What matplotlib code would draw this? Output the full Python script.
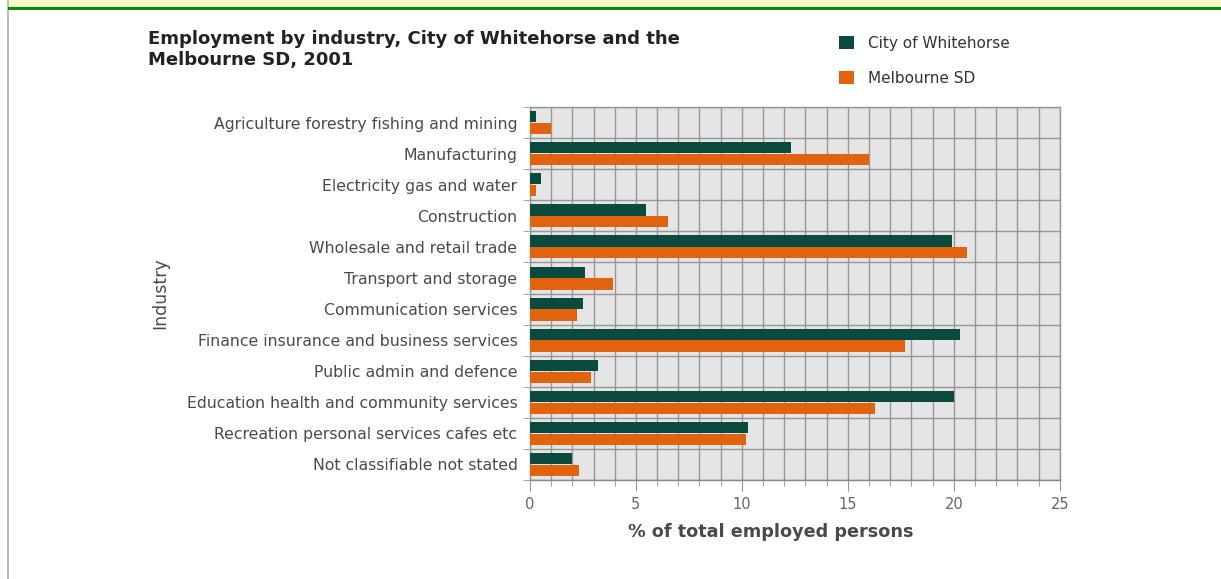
import matplotlib.pyplot as plt
import numpy as np
from matplotlib.patches import Patch, Rectangle
from matplotlib.ticker import MultipleLocator

plt.rcParams['font.family'] = 'DejaVu Sans'

# Industry shares, % of total employed persons (2001 census)
industries = [
    'Agriculture forestry fishing and mining',
    'Manufacturing',
    'Electricity gas and water',
    'Construction',
    'Wholesale and retail trade',
    'Transport and storage',
    'Communication services',
    'Finance insurance and business services',
    'Public admin and defence',
    'Education health and community services',
    'Recreation personal services cafes etc',
    'Not classifiable not stated',
]
whitehorse = [0.3, 12.3, 0.5, 5.5, 19.9, 2.6, 2.5, 20.3, 3.2, 20.0, 10.3, 2.0]
melbourne = [1.0, 16.0, 0.3, 6.5, 20.6, 3.9, 2.2, 17.7, 2.9, 16.3, 10.2, 2.3]
series_names = ['City of Whitehorse', 'Melbourne SD']
x_ticks = [0, 5, 10, 15, 20, 25]

green = '#0b4a3e'
orange = '#e2630d'
text_grey = '#4a4a4a'
grid_grey = '#969696'

fig = plt.figure(figsize=(12.21, 5.79), dpi=100)
fig.patch.set_facecolor('white')

# page furniture: grey left border, yellow strip and green rule at the top
fig.patches.append(Rectangle((0.0057, 0), 0.0020, 1, transform=fig.transFigure,
                             facecolor='#bdbdbd', edgecolor='none'))
fig.patches.append(Rectangle((0.0075, 0.986), 0.9925, 0.014, transform=fig.transFigure,
                             facecolor='#fffcc4', edgecolor='none'))
fig.patches.append(Rectangle((0.0065, 0.982), 0.9935, 0.0055, transform=fig.transFigure,
                             facecolor='#0a8a0a', edgecolor='none'))

ax = fig.add_axes([0.434, 0.171, 0.434, 0.644])
ax.set_facecolor('#e5e5e5')

y = np.arange(len(industries))
bar_h = 0.36
ax.barh(y - 0.19, whitehorse, height=bar_h, color=green, zorder=3)
ax.barh(y + 0.19, melbourne, height=bar_h, color=orange, zorder=3)

ax.set_xlim(0, 25)
ax.set_ylim(len(industries) - 0.5, -0.5)

# grid: vertical line every unit, horizontal separators between industries
ax.xaxis.set_major_locator(MultipleLocator(5))
ax.xaxis.set_minor_locator(MultipleLocator(1))
ax.set_xticks(x_ticks)
ax.grid(True, axis='x', which='both', color=grid_grey, linewidth=1.0, zorder=1)
for b in np.arange(-0.5, len(industries), 1.0):
    ax.axhline(b, color=grid_grey, linewidth=1.0, zorder=1)

ax.set_yticks(y)
ax.set_yticklabels(industries, fontsize=11.3, color=text_grey)
ax.set_yticks(np.arange(-0.5, len(industries), 1.0), minor=True)
ax.tick_params(axis='y', which='major', length=0, pad=9)
ax.tick_params(axis='y', which='minor', length=5, color=grid_grey, direction='out')
ax.tick_params(axis='x', which='major', length=8, color=grid_grey, labelsize=10.5,
               labelcolor='#666666', pad=4)
ax.tick_params(axis='x', which='minor', length=4, color=grid_grey)

for side in ['top', 'right', 'left', 'bottom']:
    ax.spines[side].set_color(grid_grey)
    ax.spines[side].set_linewidth(1.0)
ax.spines['bottom'].set_color('#888888')

ax.set_ylabel('Industry', fontsize=12.5, color=text_grey)
ax.yaxis.set_label_coords(-0.68, 0.5)
fig.text(0.631, 0.081, '% of total employed persons', fontsize=12.7, fontweight='bold',
         color=text_grey, ha='center', va='center')

fig.text(0.121, 0.915, 'Employment by industry, City of Whitehorse and the\nMelbourne SD, 2001',
         fontsize=13, fontweight='bold', color='#222222', ha='left', va='center',
         linespacing=1.2)

handles = [Patch(facecolor=green, edgecolor='none'), Patch(facecolor=orange, edgecolor='none')]
fig.legend(handles, series_names, loc='upper left', bbox_to_anchor=(0.676, 0.962),
           frameon=False, fontsize=11, handlelength=1.0, handleheight=1.0,
           handletextpad=0.9, labelspacing=1.3, labelcolor='#333333')

fig.savefig('out.png', dpi=100)
